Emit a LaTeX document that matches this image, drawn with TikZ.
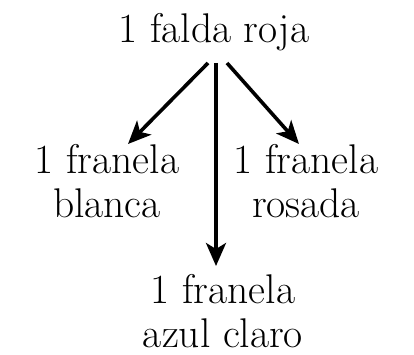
\documentclass[tikz,border=0pt]{standalone}
\usepackage{fontspec}
\usetikzlibrary{arrows.meta}
\begin{document}
\begin{tikzpicture}[x=1pt,y=1pt,
  lbl/.style={inner sep=0pt,align=center,anchor=base,font=\fontsize{41.5}{44}\selectfont},
  arr/.style={line width=3.6pt,-{Stealth[length=23pt,width=20pt,inset=6pt]}}]
\useasboundingbox (0,0) rectangle (414,354);
\node[lbl] (top) at (214,311) {1 falda roja};
\node[lbl] (left) at (107,137) {1 franela\\blanca};
\node[lbl] (right) at (306,137) {1 franela\\rosada};
\node[lbl] (bottom) at (223,7) {1 franela\\azul claro};
\coordinate (s) at (216,291);
\draw[arr] ([xshift=-8pt]s) -- ([xshift=21pt,yshift=73pt]left.base);
\draw[arr] (s) -- ([yshift=81pt]bottom.base -| s);
\draw[arr] ([xshift=11pt]s) -- ([xshift=-7pt,yshift=73pt]right.base);
\end{tikzpicture}
\end{document}
